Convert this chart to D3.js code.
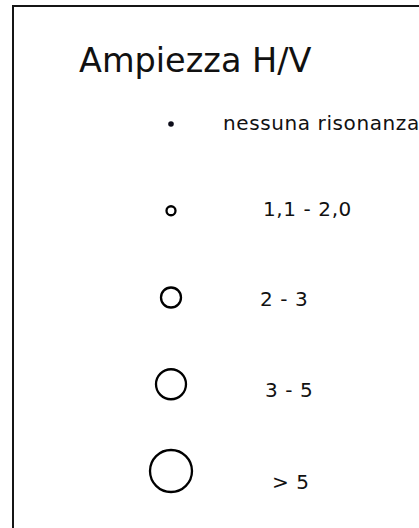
<!DOCTYPE html>
<html>
<head>
<meta charset="utf-8">
<script src="https://cdn.jsdelivr.net/npm/d3@7"></script>
<style>
  body { margin: 0; background: #fff; }
  svg { display: block; }
  text { font-family: "DejaVu Sans", Verdana, sans-serif; fill: #111; }
</style>
</head>
<body>
<svg id="legend" width="419" height="528"></svg>
<script>
const title = 'Ampiezza H/V';
const classes = ['nessuna risonanza', '1,1 - 2,0', '2 - 3', '3 - 5', '> 5'];
const symbolRadius = [2.8, 4.5, 10, 15, 21];

// hand tuned label placement (x of text start, baseline shift from symbol centre)
const labelX = [223, 263, 260, 265, 272];
const labelDy = [6, 5, 8, 13, 18];

const svg = d3.select('#legend');

// frame, runs off the right and bottom edge
svg.append('rect')
  .attr('x', 13)
  .attr('y', 6)
  .attr('width', 700)
  .attr('height', 800)
  .attr('fill', 'none')
  .attr('stroke', '#151515')
  .attr('stroke-width', 2);

svg.append('text')
  .attr('x', 79)
  .attr('y', 72)
  .attr('font-size', 33.5)
  .text(title);

let y = d3.scalePoint().domain(classes).range([124, 471]);
let r = d3.scaleOrdinal().domain(classes).range(symbolRadius);

let rows = svg.selectAll('g.row')
  .data(classes)
  .join('g')
  .attr('class', 'row')
  .attr('transform', d => `translate(0,${y(d)})`);

rows.append('circle')
  .attr('cx', 171)
  .attr('cy', 0)
  .attr('r', d => r(d))
  .attr('fill', (d, i) => i === 0 ? '#0d0d1a' : '#fff')
  .attr('stroke', '#000')
  .attr('stroke-width', (d, i) => i === 0 ? 0 : 2.3);

rows.append('text')
  .attr('x', (d, i) => labelX[i])
  .attr('y', (d, i) => labelDy[i])
  .attr('font-size', 20)
  .attr('letter-spacing', 0.6)
  .text(d => d);
</script>
</body>
</html>
